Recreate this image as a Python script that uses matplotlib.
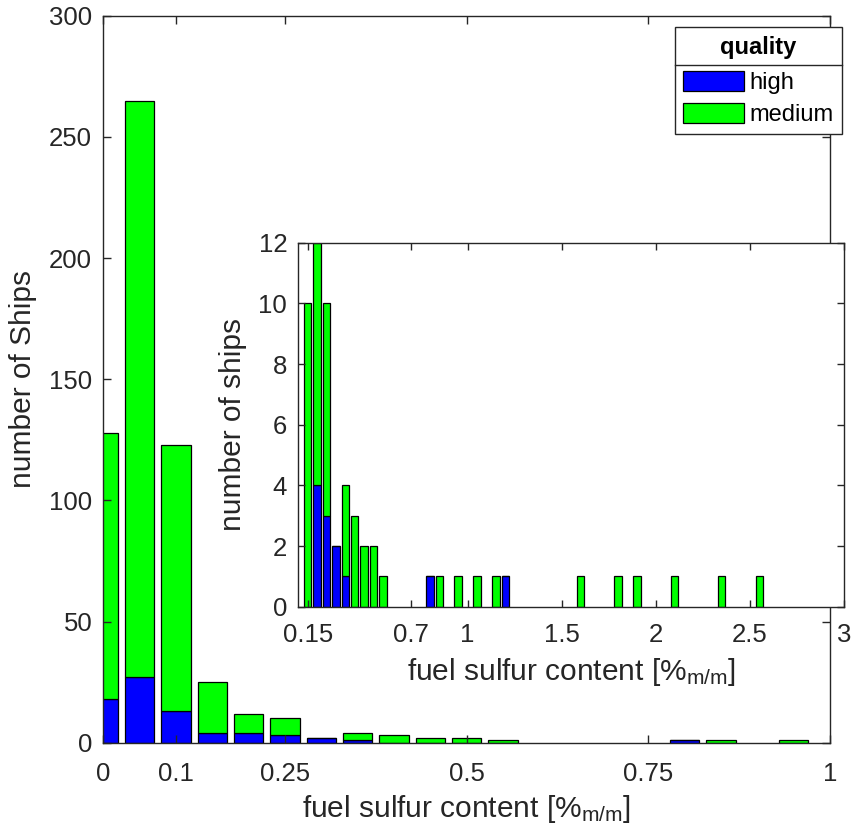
import numpy as np
import matplotlib
matplotlib.use("Agg")
import matplotlib.pyplot as plt
from matplotlib.patches import Patch
from matplotlib.lines import Line2D

plt.rcParams['font.family'] = ['Liberation Sans', 'DejaVu Sans']
plt.rcParams['mathtext.default'] = 'regular'

# main histogram, bins of 0.05 % m/m
main_centers = [0, 0.05, 0.1, 0.15, 0.2, 0.25, 0.3, 0.35, 0.4, 0.45, 0.5, 0.55, 0.8, 0.85, 0.95]
main_high = [18, 27, 13, 4, 4, 3, 2, 1, 0, 0, 0, 0, 1, 0, 0]
main_medium = [110, 238, 110, 21, 8, 7, 0, 3, 3, 2, 2, 1, 0, 1, 1]
main_xticks = [0, 0.1, 0.25, 0.5, 0.75, 1]

# zoomed histogram for the higher sulfur ships
inset_centers = [0.15, 0.2, 0.25, 0.3, 0.35, 0.4, 0.45, 0.5, 0.55, 0.8, 0.85, 0.95,
                 1.05, 1.15, 1.2, 1.6, 1.8, 1.9, 2.1, 2.35, 2.55]
inset_high = [0, 4, 3, 2, 1, 0, 0, 0, 0, 1, 0, 0, 0, 0, 1, 0, 0, 0, 0, 0, 0]
inset_medium = [10, 8, 7, 0, 3, 3, 2, 2, 1, 0, 1, 1, 1, 1, 0, 1, 1, 1, 1, 1, 1]
inset_xticks = [0.15, 0.7, 1, 1.5, 2, 2.5, 3]

BLUE = (0, 0, 1)
GREEN = (0, 1, 0)
AXCOL = (0.15, 0.15, 0.15)
FS = 18.5
LFS = 21.5
XLABEL = 'fuel sulfur content [%$_{m/m}$]'


def style_axes(ax, ticklen, xpad):
    for sp in ax.spines.values():
        sp.set_color(AXCOL)
        sp.set_linewidth(1.0)
    ax.tick_params(direction='in', top=True, right=True, length=ticklen, width=1.0,
                   color=AXCOL, labelcolor=AXCOL, labelsize=FS, pad=8)
    ax.tick_params(axis='x', pad=xpad)


def stacked_bars(ax, x, high, medium, width):
    high = np.array(high)
    medium = np.array(medium)
    ax.bar(x, high, width=width, color=BLUE, edgecolor='black', linewidth=0.9)
    ax.bar(x, medium, width=width, bottom=high, color=GREEN, edgecolor='black', linewidth=0.9)


fig = plt.figure(figsize=(8.51, 8.36), dpi=100)

ax = fig.add_axes([0.1214, 0.1116, 0.8539, 0.8696])
stacked_bars(ax, main_centers, main_high, main_medium, 0.04)
ax.set_xlim(0, 1)
ax.set_ylim(0, 300)
ax.set_xticks(main_xticks)
ax.set_xticklabels([str(t) for t in main_xticks])
ax.set_yticks(np.arange(0, 301, 50))
style_axes(ax, 6, 14)
ax.set_xlabel(XLABEL, fontsize=LFS, color=AXCOL, labelpad=5)
ax.set_ylabel('number of Ships', fontsize=LFS, color=AXCOL, labelpad=9)

axi = fig.add_axes([0.3505, 0.2743, 0.6413, 0.4354])
axi.set_facecolor('white')
stacked_bars(axi, inset_centers, inset_high, inset_medium, 0.04)
axi.set_xlim(0.1, 3)
axi.set_ylim(0, 12)
axi.set_xticks(inset_xticks)
axi.set_xticklabels([str(t) for t in inset_xticks])
axi.set_yticks(np.arange(0, 13, 2))
style_axes(axi, 5, 12)
axi.set_xlabel(XLABEL, fontsize=LFS, color=AXCOL, labelpad=6)
axi.set_ylabel('number of ships', fontsize=LFS, color=AXCOL, labelpad=8)

handles = [Patch(facecolor=BLUE, edgecolor='black', linewidth=0.9),
           Patch(facecolor=GREEN, edgecolor='black', linewidth=0.9)]
leg = fig.legend(handles, ['high', 'medium'], title='quality', loc='upper right',
                 bbox_to_anchor=(841.7 / 851, 1 - 27.3 / 836), borderaxespad=0,
                 fontsize=17, title_fontproperties={'weight': 'bold', 'size': 17},
                 handlelength=2.57, handleheight=0.95, labelspacing=0.37,
                 handletextpad=0.22, borderpad=0.36, fancybox=False, framealpha=1)
leg.get_frame().set_edgecolor(AXCOL)
leg.get_frame().set_linewidth(1.0)
leg.set_zorder(20)
# extra room between the title and the entries
leg._legend_box.sep = 8.5

# separator line between the legend title and its entries
fig.canvas.draw()
r = fig.canvas.get_renderer()
fb = leg.get_frame().get_window_extent(r)
tb = leg.get_title().get_window_extent(r)
hb = leg.legend_handles[0].get_window_extent(r)
ysep = (tb.y0 + hb.y1) / 2
inv = fig.transFigure.inverted()
(x0, y0), (x1, _) = inv.transform([(fb.x0, ysep), (fb.x1, ysep)])
fig.add_artist(Line2D([x0, x1], [y0, y0], transform=fig.transFigure, color=AXCOL,
                      linewidth=1.0, zorder=30))

fig.savefig('out.png', dpi=100)
